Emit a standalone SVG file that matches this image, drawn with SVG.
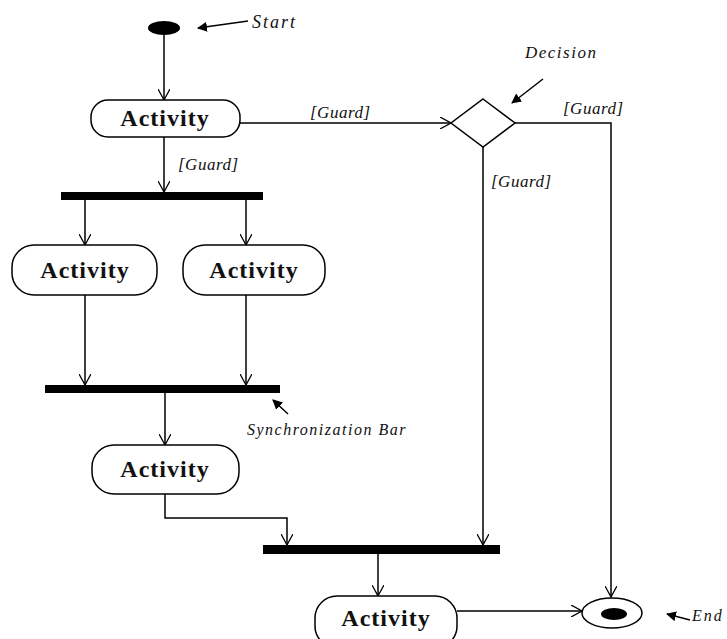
<svg xmlns="http://www.w3.org/2000/svg" width="727" height="639" viewBox="0 0 727 639">
<style>
.act{fill:#fff;stroke:#000;stroke-width:1.5}
.atxt{font-family:"Liberation Serif",serif;font-weight:bold;font-size:24px;letter-spacing:1px;text-anchor:middle;fill:#111}
.lbl{font-family:"Liberation Serif",serif;font-style:italic;font-size:17px;letter-spacing:0.5px;fill:#111}
.note{font-family:"Liberation Serif",serif;font-style:italic;font-size:17px;letter-spacing:1.5px;fill:#111}
.bar{fill:#000}
.con{fill:none;stroke:#000;stroke-width:1.5;marker-end:url(#open)}
.ptr{fill:none;stroke:#000;stroke-width:1.5;marker-end:url(#solid)}
</style>
<defs>
<marker id="open" viewBox="0 0 12 12" refX="11" refY="6" markerWidth="12" markerHeight="12" markerUnits="userSpaceOnUse" orient="auto">
<path d="M0,0 L11,6 L0,12" fill="none" stroke="#000" stroke-width="1.3"/>
</marker>
<marker id="solid" viewBox="0 0 10 10" refX="9" refY="5" markerWidth="10" markerHeight="10" markerUnits="userSpaceOnUse" orient="auto">
<path d="M0,0 L10,5 L0,10 Z" fill="#000"/>
</marker>
</defs>
<rect width="727" height="639" fill="#fff"/>

<g id="connectors">
<path class="con" d="M164,35 V100"/>
<path class="con" d="M164,137 V192"/>
<path class="con" d="M240,123 H451"/>
<path class="con" d="M85,200 V245"/>
<path class="con" d="M246,200 V245"/>
<path class="con" d="M85,295 V385"/>
<path class="con" d="M246,295 V385"/>
<path class="con" d="M165,393 V445"/>
<path class="con" d="M165,494 V518 H287 V545"/>
<path class="con" d="M483,147 V545"/>
<path class="con" d="M515,123 H611 V597"/>
<path class="con" d="M378,554 V596"/>
<path class="con" d="M457,611 H582"/>
<text class="lbl" x="310" y="118">[Guard]</text>
<text class="lbl" x="178" y="170">[Guard]</text>
<text class="lbl" x="563" y="114">[Guard]</text>
<text class="lbl" x="491" y="187">[Guard]</text>
</g>

<g id="start">
<ellipse cx="164" cy="28" rx="16" ry="7" fill="#000"/>
</g>
<g id="start-note">
<path class="ptr" d="M248,21 L198,28"/>
<text class="note" x="252" y="28" style="letter-spacing:2px;font-size:18px">Start</text>
</g>

<g id="activity1">
<rect class="act" x="91" y="100" width="149" height="37" rx="17"/>
<text class="atxt" x="165" y="126">Activity</text>
</g>

<g id="decision">
<polygon points="483,99 515,123 483,147 451,123" fill="#fff" stroke="#000" stroke-width="1.5"/>
</g>
<g id="decision-note">
<text class="note" x="525" y="58">Decision</text>
<path class="ptr" d="M543,79 L512,103"/>
</g>

<g id="bar1"><rect class="bar" x="61" y="192" width="202" height="8"/></g>

<g id="activity2">
<rect class="act" x="12" y="245" width="145" height="50" rx="22"/>
<text class="atxt" x="85" y="278">Activity</text>
</g>

<g id="activity3">
<rect class="act" x="183" y="245" width="142" height="50" rx="22"/>
<text class="atxt" x="254" y="278">Activity</text>
</g>

<g id="bar2"><rect class="bar" x="45" y="385" width="235" height="8"/></g>
<g id="bar2-note">
<path class="ptr" d="M288,414 L273,400"/>
<text class="note" x="247" y="435" style="font-size:16px">Synchronization Bar</text>
</g>

<g id="activity4">
<rect class="act" x="92" y="445" width="147" height="49" rx="22"/>
<text class="atxt" x="165" y="477">Activity</text>
</g>

<g id="bar3"><rect class="bar" x="263" y="545" width="237" height="9"/></g>

<g id="activity5">
<rect class="act" x="315" y="596" width="142" height="52" rx="22"/>
<text class="atxt" x="386" y="626">Activity</text>
</g>

<g id="end">
<ellipse cx="612" cy="613" rx="30" ry="15" fill="#fff" stroke="#000" stroke-width="1.5"/>
<ellipse cx="614" cy="614" rx="13" ry="6" fill="#000"/>
</g>
<g id="end-note">
<path class="ptr" d="M690,620 L667,614"/>
<text class="note" x="692" y="621" style="font-size:16px;letter-spacing:2px">End</text>
</g>
</svg>
